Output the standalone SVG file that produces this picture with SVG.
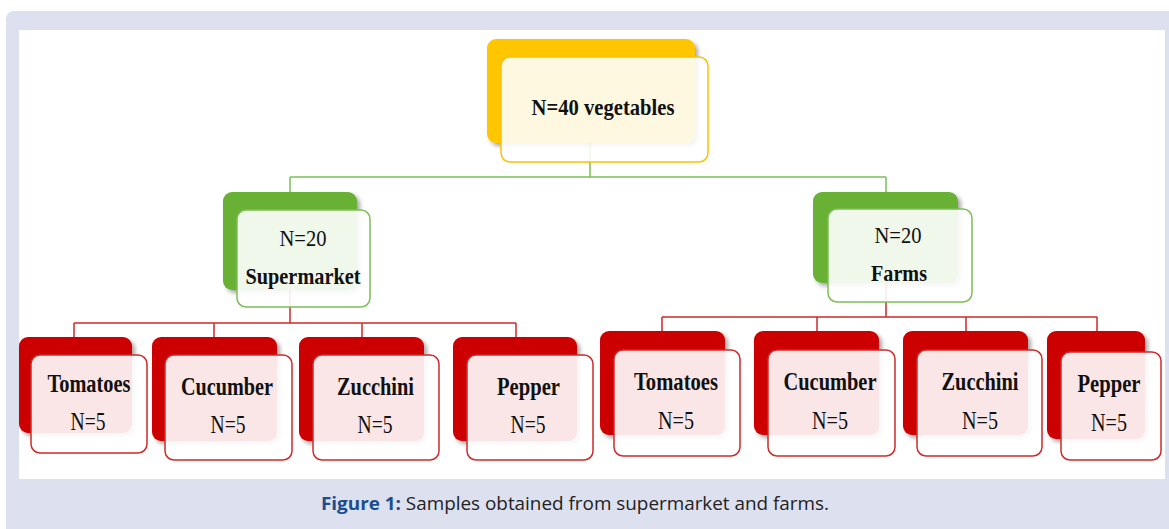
<svg xmlns="http://www.w3.org/2000/svg" width="1169" height="529" viewBox="0 0 1169 529">
<style>
.t{font-family:"Liberation Serif","Times New Roman",serif;fill:#111;text-anchor:middle}
.b{font-weight:bold}
.back{filter:url(#sh)}
.yb{fill:#ffc600}.yf{fill:#fff;fill-opacity:.88;stroke:#ffc000;stroke-width:1.5}
.gb{fill:#68b136}.gf{fill:#fff;fill-opacity:.9;stroke:#7dbf55;stroke-width:1.5}
.rb{fill:#cc0000}.rf{fill:#fff;fill-opacity:.9;stroke:#d02a2a;stroke-width:1.5}
.gl{stroke:#7cbf55;stroke-width:1.5;fill:none}
.rl{stroke:#d02a2a;stroke-width:1.5;fill:none}
</style>
<defs>
<filter id="sh" x="-10%" y="-10%" width="130%" height="130%">
<feDropShadow dx="3" dy="3" stdDeviation="2" flood-color="#000" flood-opacity="0.35"/>
</filter>
</defs>
<rect x="6" y="11" width="1175" height="530" rx="8" fill="#dde0ee"/>
<rect x="19" y="30" width="1146" height="449" fill="#ffffff"/>

<g id="connectors">
<path class="gl" d="M590,143 V177 M290,177 H886 M290,177 V192 M886,177 V192"/>
<path class="rl" d="M290,290 V323 M74,323 H516 M74,323 V337 M214,323 V337 M362,323 V337 M516,323 V337"/>
<path class="rl" d="M886,283 V317 M662,317 H1097 M662,317 V331 M817,317 V331 M966,317 V331 M1097,317 V331"/>
</g>

<g id="root">
<rect class="yb back" x="487" y="39" width="208" height="104" rx="9"/>
<rect class="yf" x="501" y="57" width="207" height="105" rx="9"/>
<text class="t b" x="603" y="115" font-size="24" textLength="143" lengthAdjust="spacingAndGlyphs">N=40 vegetables</text>
</g>

<g id="supermarket">
<rect class="gb back" x="223" y="192" width="134" height="98" rx="9"/>
<rect class="gf" x="237" y="210" width="133" height="97" rx="9"/>
<text class="t" x="303" y="246" font-size="24" textLength="47" lengthAdjust="spacingAndGlyphs">N=20</text>
<text class="t b" x="303" y="284" font-size="24" textLength="115" lengthAdjust="spacingAndGlyphs">Supermarket</text>
</g>

<g id="farms">
<rect class="gb back" x="813" y="192" width="145" height="91" rx="9"/>
<rect class="gf" x="828" y="209" width="144" height="93" rx="9"/>
<text class="t" x="898" y="243" font-size="24" textLength="47" lengthAdjust="spacingAndGlyphs">N=20</text>
<text class="t b" x="899" y="281" font-size="24" textLength="56" lengthAdjust="spacingAndGlyphs">Farms</text>
</g>

<g id="sm-tomatoes">
<rect class="rb back" x="19" y="337" width="113" height="96" rx="9"/>
<rect class="rf" x="31" y="355" width="116" height="98" rx="9"/>
<text class="t b" x="89" y="392" font-size="25" textLength="83" lengthAdjust="spacingAndGlyphs">Tomatoes</text>
<text class="t" x="88" y="430" font-size="25" textLength="35" lengthAdjust="spacingAndGlyphs">N=5</text>
</g>
<g id="sm-cucumber">
<rect class="rb back" x="152" y="337" width="125" height="104" rx="9"/>
<rect class="rf" x="165" y="355" width="127" height="105" rx="9"/>
<text class="t b" x="227" y="395" font-size="25" textLength="92" lengthAdjust="spacingAndGlyphs">Cucumber</text>
<text class="t" x="228" y="433" font-size="25" textLength="35" lengthAdjust="spacingAndGlyphs">N=5</text>
</g>
<g id="sm-zucchini">
<rect class="rb back" x="299" y="337" width="125" height="104" rx="9"/>
<rect class="rf" x="313" y="355" width="126" height="105" rx="9"/>
<text class="t b" x="375.5" y="395" font-size="25" textLength="77" lengthAdjust="spacingAndGlyphs">Zucchini</text>
<text class="t" x="375" y="433" font-size="25" textLength="35" lengthAdjust="spacingAndGlyphs">N=5</text>
</g>
<g id="sm-pepper">
<rect class="rb back" x="453" y="337" width="124" height="104" rx="9"/>
<rect class="rf" x="467" y="355" width="126" height="105" rx="9"/>
<text class="t b" x="528.5" y="395" font-size="25" textLength="63" lengthAdjust="spacingAndGlyphs">Pepper</text>
<text class="t" x="528" y="433" font-size="25" textLength="35" lengthAdjust="spacingAndGlyphs">N=5</text>
</g>

<g id="fm-tomatoes">
<rect class="rb back" x="600" y="331" width="125" height="104" rx="9"/>
<rect class="rf" x="614" y="350" width="126" height="106" rx="9"/>
<text class="t b" x="676" y="390" font-size="25" textLength="84" lengthAdjust="spacingAndGlyphs">Tomatoes</text>
<text class="t" x="676" y="429" font-size="25" textLength="36" lengthAdjust="spacingAndGlyphs">N=5</text>
</g>
<g id="fm-cucumber">
<rect class="rb back" x="754" y="331" width="125" height="104" rx="9"/>
<rect class="rf" x="768" y="350" width="127" height="106" rx="9"/>
<text class="t b" x="830" y="390" font-size="25" textLength="93" lengthAdjust="spacingAndGlyphs">Cucumber</text>
<text class="t" x="830" y="429" font-size="25" textLength="36" lengthAdjust="spacingAndGlyphs">N=5</text>
</g>
<g id="fm-zucchini">
<rect class="rb back" x="903" y="331" width="125" height="104" rx="9"/>
<rect class="rf" x="917" y="350" width="125" height="106" rx="9"/>
<text class="t b" x="980" y="390" font-size="25" textLength="77" lengthAdjust="spacingAndGlyphs">Zucchini</text>
<text class="t" x="980" y="429" font-size="25" textLength="36" lengthAdjust="spacingAndGlyphs">N=5</text>
</g>
<g id="fm-pepper">
<rect class="rb back" x="1047" y="331" width="98" height="108" rx="9"/>
<rect class="rf" x="1061" y="352" width="100" height="108" rx="9"/>
<text class="t b" x="1109" y="392" font-size="25" textLength="63" lengthAdjust="spacingAndGlyphs">Pepper</text>
<text class="t" x="1109" y="431" font-size="25" textLength="36" lengthAdjust="spacingAndGlyphs">N=5</text>
</g>

<g id="caption">
<text x="321" y="510" font-family="'Open Sans','Noto Sans',sans-serif" font-size="18.5" fill="#222" textLength="508" lengthAdjust="spacingAndGlyphs"><tspan font-weight="bold" fill="#1b4d8f">Figure 1:</tspan> Samples obtained from supermarket and farms.</text>
</g>
</svg>
